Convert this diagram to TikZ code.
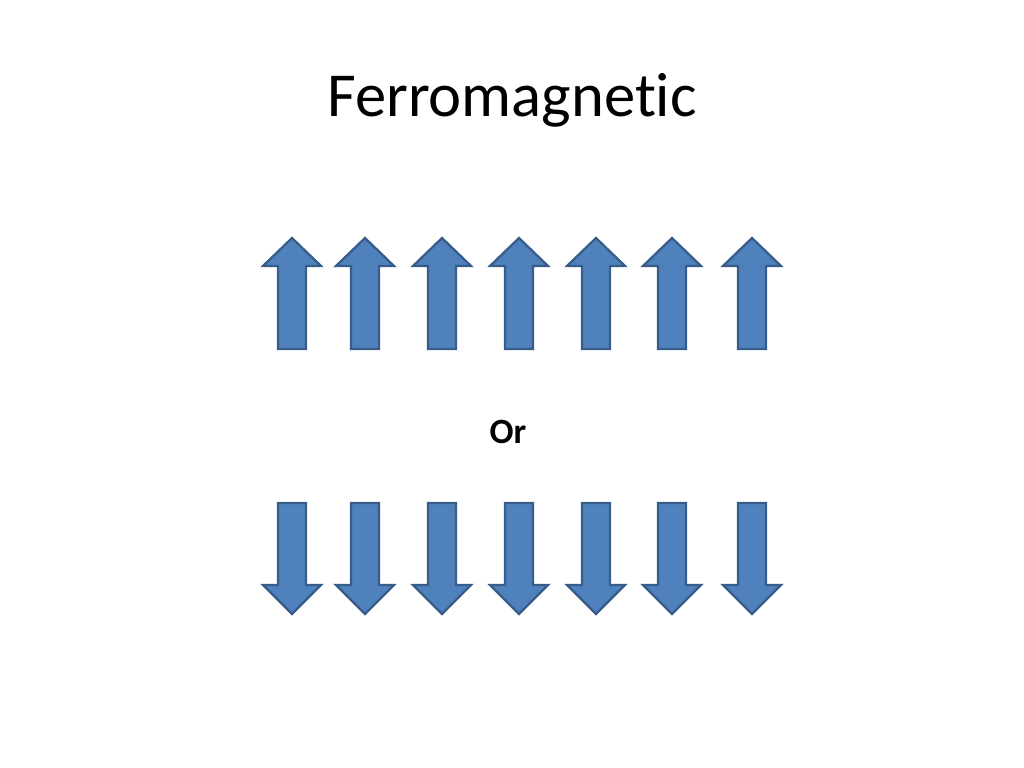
\documentclass[tikz,border=0pt]{standalone}
\usepackage{fontspec}
\setmainfont{Carlito}[Ligatures=NoCommon]
\usepackage{tikz}
\usetikzlibrary{calc}
\definecolor{spinfill}{HTML}{4F81BD}
\definecolor{spinline}{HTML}{385D8A}

\begin{document}
\begin{tikzpicture}[x=0.703125pt, y=-0.703125pt,
    spin/.style={fill=spinfill, draw=spinline, line width=1.6pt, line join=miter}]
    \useasboundingbox (0,0) rectangle (1024,768);
    \node[anchor=base, font=\fontsize{44}{48}\selectfont] (title) at (512,117) {Ferromagnetic};
    \node[anchor=base, font=\fontsize{25}{30}\selectfont\bfseries] (or) at (508,443) {Or};
    % spins up
    \foreach \cx in {292,365,442,519,596,672,752}
        \draw[spin] (\cx,238) -- (\cx+29,266) -- (\cx+14,266) -- (\cx+14,349)
        -- (\cx-14,349) -- (\cx-14,266) -- (\cx-29,266) -- cycle;
    % spins down
    \foreach \cx in {292,365,442,519,596,672,752}
        \draw[spin] (\cx-14,503) -- (\cx+14,503) -- (\cx+14,585) -- (\cx+29,585)
        -- (\cx,614) -- (\cx-29,585) -- (\cx-14,585) -- cycle;
\end{tikzpicture}
\end{document}
